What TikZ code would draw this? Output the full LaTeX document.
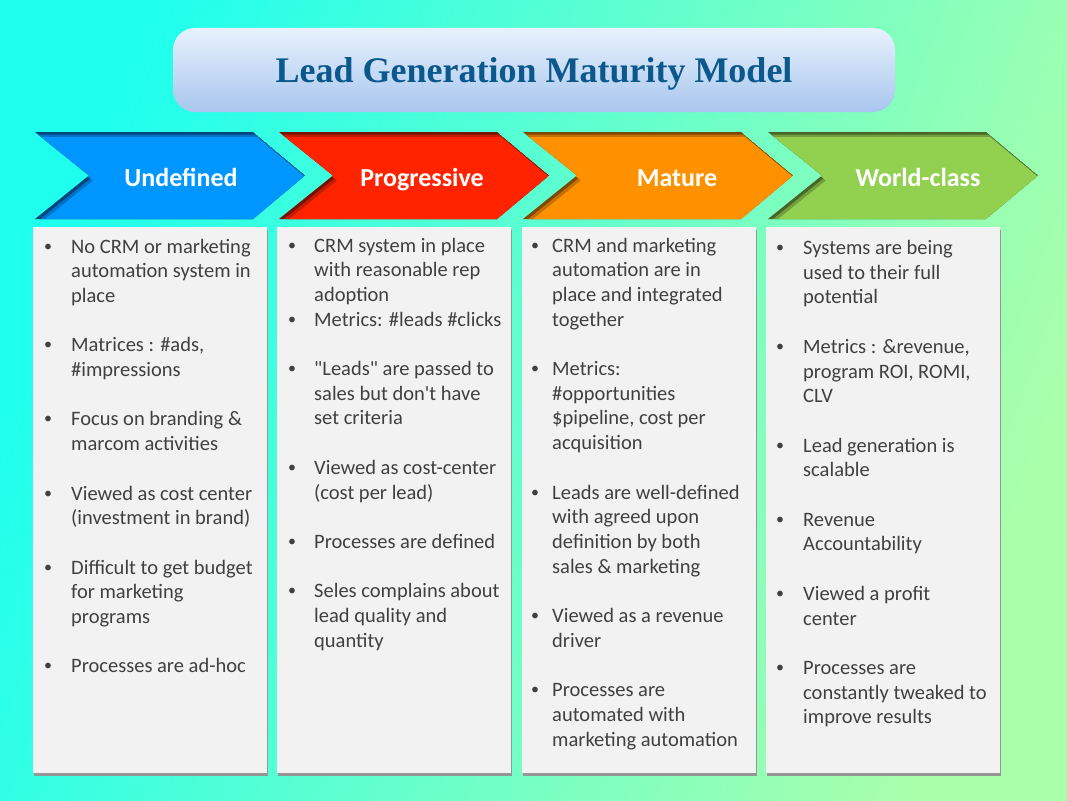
\documentclass[tikz,border=0pt]{standalone}
\usepackage{fontspec}
\setmainfont{Carlito}[Ligatures=TeXOff]
\newfontfamily\titlefont{Liberation Serif}
\definecolor{bgA}{RGB}{30,255,238}
\definecolor{bgB}{RGB}{170,255,170}
\definecolor{tboxA}{RGB}{232,242,253}
\definecolor{tboxB}{RGB}{168,198,238}
\definecolor{titleblue}{RGB}{10,88,140}
\definecolor{txt}{RGB}{64,64,64}
\definecolor{colfill}{RGB}{242,242,242}
\definecolor{colshadow}{RGB}{150,150,150}
\definecolor{blueM}{RGB}{0,150,255}
\definecolor{blueD}{RGB}{0,70,125}
\definecolor{redM}{RGB}{255,35,0}
\definecolor{redD}{RGB}{120,18,0}
\definecolor{oraM}{RGB}{255,145,0}
\definecolor{oraD}{RGB}{125,72,0}
\definecolor{grnM}{RGB}{146,208,80}
\definecolor{grnD}{RGB}{72,102,40}
\newcommand{\ls}[1]{\vtop{\halign{##\hfil\cr#1\crcr}}}
\newcommand{\chevpath}[1]{(#1,132) -- ++(218,0) -- ++(52,43.5) -- ++(-52,43.5) -- ++(-218,0) -- ++(54,-43.5) -- cycle}
\newcommand{\mychev}[3]{%
  \begin{scope}
    \clip \chevpath{#1};
    \fill[#3] \chevpath{#1};
    \fill[#2!55!#3, shift={(2,2.5)}] \chevpath{#1};
    \fill[#2, shift={(4,5)}] \chevpath{#1};
  \end{scope}}
\tikzset{
  itemtext/.style={anchor=base west, inner sep=0pt, text=txt, font=\fontsize{20.5}{24.7}\selectfont},
  bul/.style={anchor=base, inner sep=0pt, text=txt, font=\fontsize{16}{20}\selectfont},
  chevlabel/.style={anchor=base, inner sep=0pt, text=white, font=\bfseries\fontsize{26}{30}\selectfont},
  titlebox/.style={rounded corners=22pt, top color=tboxA, bottom color=tboxB, minimum width=722pt, minimum height=84pt, inner sep=0pt},
  titletext/.style={anchor=base, inner sep=0pt, text=titleblue, font=\titlefont\bfseries\fontsize{36}{40}\selectfont},
  colbox/.style={fill=colfill, minimum width=234pt, minimum height=546pt, inner sep=0pt},
  colshade/.style={fill=colshadow, minimum width=234pt, minimum height=546pt, inner sep=0pt},
}
\begin{document}
\begin{tikzpicture}[x=1pt,y=-1pt]
\useasboundingbox (0,0) rectangle (1067,800);
\shade[top color=bgA, bottom color=bgB, shading angle=70] (0,0) rectangle (1067,800);

% title
\node[titlebox] (tbox) at (534,70) {};
\node[titletext] (title) at (534,82) {Lead Generation Maturity Model};

% chevrons
\mychev{35}{blueM}{blueD}
\mychev{279}{redM}{redD}
\mychev{523}{oraM}{oraD}
\mychev{768}{grnM}{grnD}
\node[chevlabel] (h1) at (181,186.5) {Undefined};
\node[chevlabel] (h2) at (422,186.5) {Progressive};
\node[chevlabel] (h3) at (677,186.5) {Mature};
\node[chevlabel] (h4) at (918,186.5) {World-class};

% columns
\node[colshade] (s1) at (151,503) {};
\node[colshade] (s2) at (395,503) {};
\node[colshade] (s3) at (640,503) {};
\node[colshade] (s4) at (884,503) {};
\node[colbox] (c1) at (150,500) {};
\node[colbox] (c2) at (394,500) {};
\node[colbox] (c3) at (639,500) {};
\node[colbox] (c4) at (883,500) {};

% column 1
\foreach \y [count=\i] in {253,351.8,425.9,500,574.1,672.9}
  \node[bul] (b1\i) at (48,\y-2) {•};
\node[itemtext] (t11) at (71,253) {\ls{No CRM or marketing\cr automation system in\cr place}};
\node[itemtext] (t12) at (71,351.8) {\ls{Matrices : \#ads,\cr \#impressions}};
\node[itemtext] (t13) at (71,425.9) {\ls{Focus on branding \&\cr marcom activities}};
\node[itemtext] (t14) at (71,500) {\ls{Viewed as cost center\cr (investment in brand)}};
\node[itemtext] (t15) at (71,574.1) {\ls{Difficult to get budget\cr for marketing\cr programs}};
\node[itemtext] (t16) at (71,672.9) {\ls{Processes are ad-hoc}};

% column 2
\foreach \y [count=\i] in {252,326.1,375.5,474.3,548.4,597.8}
  \node[bul] (b2\i) at (292,\y-2) {•};
\node[itemtext] (t21) at (314,252) {\ls{CRM system in place\cr with reasonable rep\cr adoption}};
\node[itemtext] (t22) at (314,326.1) {\ls{Metrics: \#leads \#clicks}};
\node[itemtext] (t23) at (314,375.5) {\ls{"Leads" are passed to\cr sales but don't have\cr set criteria}};
\node[itemtext] (t24) at (314,474.3) {\ls{Viewed as cost-center\cr (cost per lead)}};
\node[itemtext] (t25) at (314,548.4) {\ls{Processes are defined}};
\node[itemtext] (t26) at (314,597.8) {\ls{Seles complains about\cr lead quality and\cr quantity}};

% column 3
\foreach \y [count=\i] in {252,375.5,499,622.5,696.6}
  \node[bul] (b3\i) at (535,\y-2) {•};
\node[itemtext] (t31) at (552,252) {\ls{CRM and marketing\cr automation are in\cr place and integrated\cr together}};
\node[itemtext] (t32) at (552,375.5) {\ls{Metrics:\cr \#opportunities\cr \$pipeline, cost per\cr acquisition}};
\node[itemtext] (t33) at (552,499) {\ls{Leads are well-defined\cr with agreed upon\cr definition by both\cr sales \& marketing}};
\node[itemtext] (t34) at (552,622.5) {\ls{Viewed as a revenue\cr driver}};
\node[itemtext] (t35) at (552,696.6) {\ls{Processes are\cr automated with\cr marketing automation}};

% column 4
\foreach \y [count=\i] in {254.5,353.3,452.1,526.2,600.3,674.4}
  \node[bul] (b4\i) at (780,\y-2) {•};
\node[itemtext] (t41) at (803,254.5) {\ls{Systems are being\cr used to their full\cr potential}};
\node[itemtext] (t42) at (803,353.3) {\ls{Metrics : \&revenue,\cr program ROI, ROMI,\cr CLV}};
\node[itemtext] (t43) at (803,452.1) {\ls{Lead generation is\cr scalable}};
\node[itemtext] (t44) at (803,526.2) {\ls{Revenue\cr Accountability}};
\node[itemtext] (t45) at (803,600.3) {\ls{Viewed a profit\cr center}};
\node[itemtext] (t46) at (803,674.4) {\ls{Processes are\cr constantly tweaked to\cr improve results}};
\end{tikzpicture}
\end{document}
